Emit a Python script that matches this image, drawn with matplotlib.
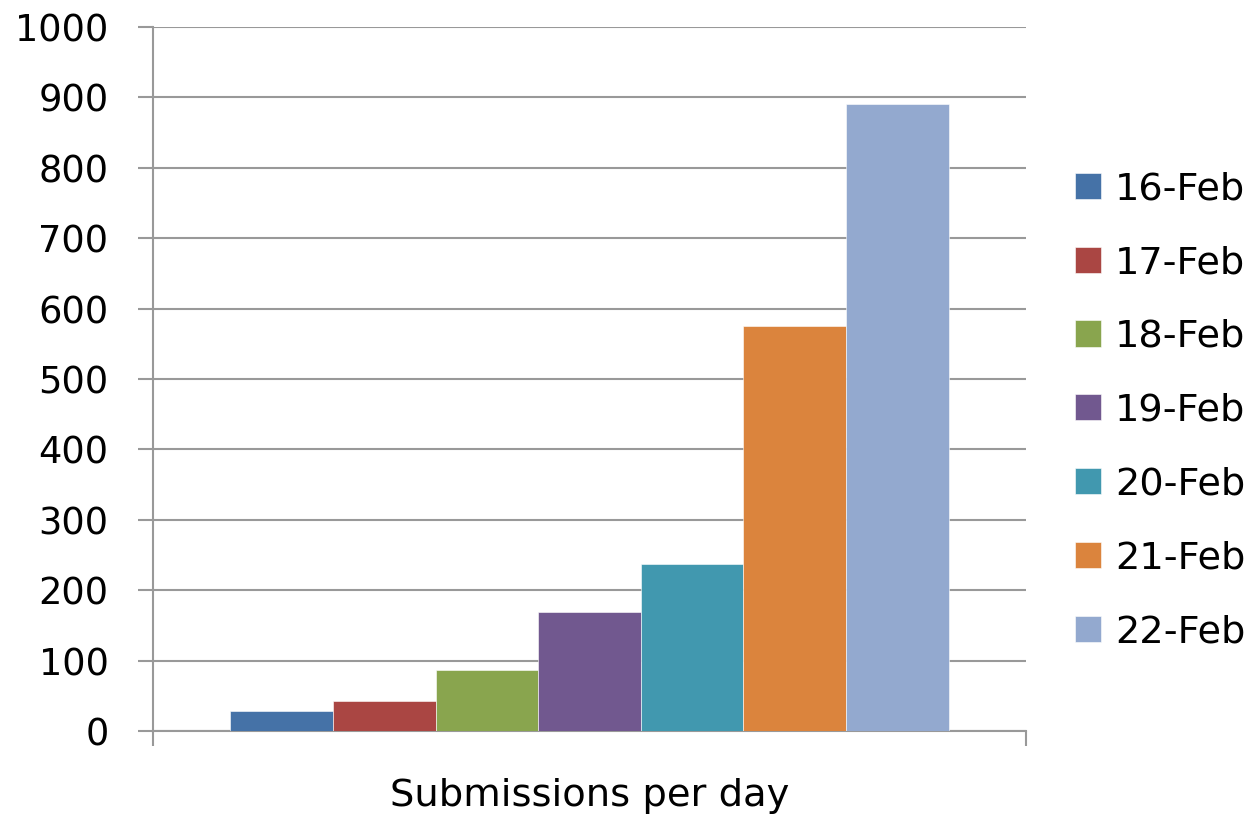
import matplotlib
matplotlib.use('Agg')
import matplotlib.pyplot as plt
import numpy as np

# values
days = ['16-Feb', '17-Feb', '18-Feb', '19-Feb', '20-Feb', '21-Feb', '22-Feb']
submissions = [29, 43, 86, 169, 237, 575, 890]
colors = ['#4572A7', '#AA4643', '#89A54E', '#71588F', '#4198AF', '#DB843D', '#93A9CF']
yticks = [0, 100, 200, 300, 400, 500, 600, 700, 800, 900, 1000]

plt.rcParams['font.family'] = ['DejaVu Sans']

fig = plt.figure(figsize=(12.54, 8.16), dpi=100)
ax = fig.add_axes([153 / 1254, 85 / 816, 873 / 1254, 704 / 816])

x = np.arange(len(days))
for i in range(len(days)):
    ax.bar(x[i], submissions[i], width=1.0, color=colors[i], label=days[i],
           edgecolor='white', linewidth=0.4, zorder=3)

pad = 0.755
ax.set_xlim(-0.5 - pad, len(days) - 0.5 + pad)
ax.set_ylim(0, 1000)
ax.set_yticks(yticks)
ax.tick_params(axis='y', labelsize=26.5, direction='out', length=11, width=1.5,
               color='#999999', pad=21)
ax.set_xticks([-0.5 - pad, len(days) - 0.5 + pad])
ax.set_xticklabels(['', ''])
ax.tick_params(axis='x', direction='out', length=11, width=1.5, color='#999999')
ax.yaxis.grid(True, color='#999999', linewidth=1.5, zorder=0)

for s in ['top', 'right']:
    ax.spines[s].set_visible(False)
for s in ['left', 'bottom']:
    ax.spines[s].set_color('#999999')
    ax.spines[s].set_linewidth(1.5)

ax.set_xlabel('Submissions per day', fontsize=27.7, labelpad=19)

ax.legend(loc='center left', bbox_to_anchor=(1.056, 0.455), frameon=False,
          fontsize=27.5, handlelength=0.68, handleheight=0.68, handletextpad=0.37,
          labelspacing=0.99, borderaxespad=0, borderpad=0)

fig.savefig('out.png', dpi=100)
